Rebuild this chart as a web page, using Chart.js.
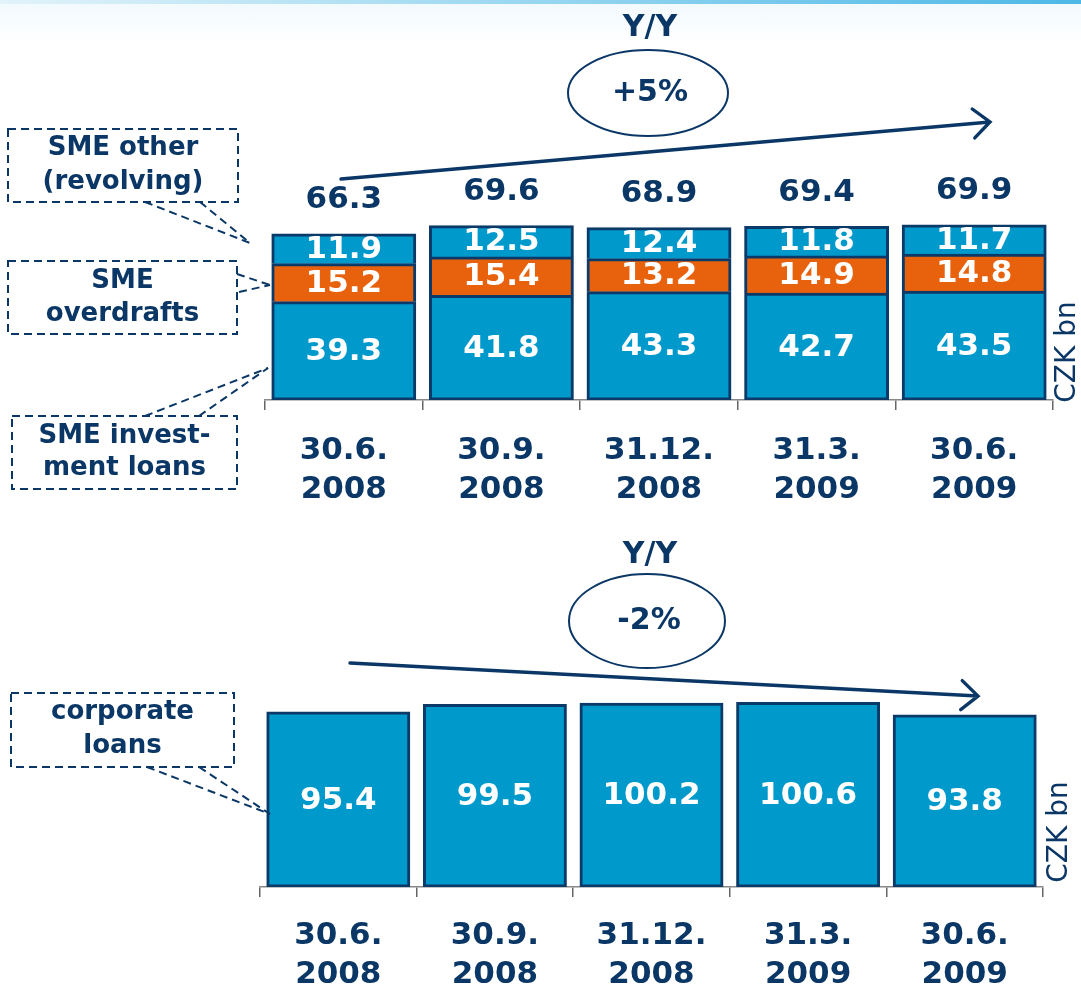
<!DOCTYPE html>
<html>
<head>
<meta charset="utf-8">
<script src="https://cdn.jsdelivr.net/npm/chart.js@4.4.1/dist/chart.umd.min.js"></script>
<style>
  html, body { margin: 0; padding: 0; background: #fff; width: 1081px; height: 990px; overflow: hidden; }
  #haze { position: absolute; left: 0; top: 0; width: 1081px; height: 45px;
          background: linear-gradient(to bottom, rgba(230,245,252,0.55) 0%, rgba(255,255,255,0) 100%); }
  #band { position: absolute; left: 0; top: 0; width: 1081px; height: 4px;
          background: linear-gradient(to right, #e2f3fa 0%, #a6dcf2 40%, #4db8e6 100%); }
  #smeChart { position: absolute; left: 0; top: 0; }
  #corpChart { position: absolute; left: 0; top: 520px; }
</style>
</head>
<body>
<div id="haze"></div>
<div id="band"></div>
<canvas id="smeChart" width="1081" height="520"></canvas>
<canvas id="corpChart" width="1081" height="470"></canvas>
<script>
// Quarter-end dates (two-line tick labels)
const quarters = [["30.6.", "2008"], ["30.9.", "2008"], ["31.12.", "2008"], ["31.3.", "2009"], ["30.6.", "2009"]];

// SME loans, CZK bn
const smeInvestmentLoans = [39.3, 41.8, 43.3, 42.7, 43.5];
const smeOverdrafts      = [15.2, 15.4, 13.2, 14.9, 14.8];
const smeOther           = [11.9, 12.5, 12.4, 11.8, 11.7];
const smeTotals          = [66.3, 69.6, 68.9, 69.4, 69.9];

// Corporate loans, CZK bn
const corporateLoans = [95.4, 99.5, 100.2, 100.6, 93.8];

const NAVY = '#0B3766';
const BLUE = '#0099CC';
const ORANGE = '#E8620E';
const EDGE = '#0B3A68';
const FONT = '"DejaVu Sans", Verdana, sans-serif';

// White values inside each bar segment, navy totals above stacks
const valueLabels = {
  id: 'valueLabels',
  afterDatasetsDraw(chart, args, opts) {
    const ctx = chart.ctx;
    ctx.save();
    ctx.font = 'bold 31px ' + FONT;
    ctx.textAlign = 'center';
    ctx.textBaseline = 'middle';
    chart.data.datasets.forEach((ds, i) => {
      chart.getDatasetMeta(i).data.forEach((bar, j) => {
        ctx.fillStyle = '#ffffff';
        ctx.fillText(ds.data[j].toFixed(1), bar.x, (bar.y + bar.base) / 2 + 1);
      });
    });
    if (opts.totals) {
      const topMeta = chart.getDatasetMeta(chart.data.datasets.length - 1);
      topMeta.data.forEach((bar, j) => {
        ctx.fillStyle = NAVY;
        ctx.fillText(opts.totals[j].toFixed(1), bar.x, bar.y - 34);
      });
    }
    ctx.restore();
  }
};

// Y/Y bubble, trend arrow, dashed callouts and unit caption
const notes = {
  id: 'notes',
  afterDraw(chart, args, o) {
    const ctx = chart.ctx;
    ctx.save();
    ctx.fillStyle = NAVY;
    ctx.strokeStyle = NAVY;
    ctx.textAlign = 'center';
    ctx.textBaseline = 'middle';

    // Y/Y heading and ellipse
    ctx.font = 'bold 30px ' + FONT;
    ctx.fillText('Y/Y', o.yy.x, o.yy.y);
    ctx.lineWidth = 2;
    ctx.beginPath();
    ctx.ellipse(o.bubble.cx, o.bubble.cy, o.bubble.rx, o.bubble.ry, 0, 0, Math.PI * 2);
    ctx.stroke();
    ctx.font = 'bold 30px ' + FONT;
    ctx.fillText(o.bubble.text, o.bubble.cx + 2, o.bubble.cy);

    // trend arrow with open head
    const a = o.arrow;
    ctx.lineWidth = 3.4;
    ctx.lineCap = 'round';
    ctx.beginPath();
    ctx.moveTo(a.x0, a.y0);
    ctx.lineTo(a.x1, a.y1);
    const ang = Math.atan2(a.y1 - a.y0, a.x1 - a.x0);
    const len = 22, spread = 0.72;
    ctx.moveTo(a.x1 - len * Math.cos(ang - spread), a.y1 - len * Math.sin(ang - spread));
    ctx.lineTo(a.x1, a.y1);
    ctx.lineTo(a.x1 - len * Math.cos(ang + spread), a.y1 - len * Math.sin(ang + spread));
    ctx.stroke();

    // dashed callout boxes with leader lines
    ctx.lineCap = 'butt';
    ctx.lineWidth = 2;
    ctx.setLineDash([8, 5]);
    o.callouts.forEach(c => {
      ctx.strokeRect(c.box[0], c.box[1], c.box[2], c.box[3]);
      c.from.forEach(p => {
        ctx.beginPath();
        ctx.moveTo(p[0], p[1]);
        ctx.lineTo(c.to[0], c.to[1]);
        ctx.stroke();
      });
    });
    ctx.setLineDash([]);
    ctx.font = 'bold 26px ' + FONT;
    o.callouts.forEach(c => {
      const cx = c.box[0] + c.box[2] / 2;
      c.text.forEach((t, k) => ctx.fillText(t, cx, c.ty[k]));
    });

    // unit caption, reading upwards
    ctx.translate(o.unit.x, o.unit.y);
    ctx.rotate(-Math.PI / 2);
    ctx.font = '28px ' + FONT;
    ctx.fillText('CZK bn', 0, 0);
    ctx.restore();
  }
};

function xAxis(height, padding) {
  return {
    type: 'category',
    offset: true,
    afterFit(scale) { scale.height = height; },
    grid: { display: true, offset: true, drawOnChartArea: false, drawTicks: true, tickLength: 10, color: '#666', lineWidth: 1.5 },
    border: { display: true, color: '#888', width: 1.5 },
    ticks: {
      color: NAVY,
      font: { family: FONT, size: 31, weight: 'bold', lineHeight: 1.27 },
      padding: padding,
      autoSkip: false,
      maxRotation: 0,
      minRotation: 0
    }
  };
}

const common = {
  responsive: false,
  animation: false,
  events: [],
  plugins: { legend: { display: false }, tooltip: { enabled: false } }
};

// one 3px outline per segment; upper segments rest on the edge of the one below
const barStyle = {
  categoryPercentage: 1,
  barPercentage: 0.914,
  borderSkipped: false,
  inflateAmount: 0.4,
  borderColor: EDGE,
  borderWidth: c => ({ top: 3, left: 3, right: 3, bottom: c.datasetIndex === 0 ? 3 : 0 })
};

new Chart(document.getElementById('smeChart'), {
  type: 'bar',
  data: {
    labels: quarters,
    datasets: [
      { label: 'SME investment loans', data: smeInvestmentLoans, backgroundColor: BLUE },
      { label: 'SME overdrafts', data: smeOverdrafts, backgroundColor: ORANGE },
      { label: 'SME other (revolving)', data: smeOther, backgroundColor: BLUE }
    ]
  },
  options: Object.assign({}, common, {
    layout: { padding: { left: 265, right: 28, top: 0, bottom: 0 } },
    datasets: { bar: barStyle },
    scales: {
      x: Object.assign(xAxis(120, 21), { stacked: true }),
      y: { display: false, stacked: true, min: 0, max: 160 }
    },
    plugins: Object.assign({}, common.plugins, {
      valueLabels: { totals: smeTotals },
      notes: {
        yy: { x: 650, y: 28 },
        bubble: { cx: 648, cy: 93, rx: 80, ry: 43, text: '+5%' },
        arrow: { x0: 341, y0: 179, x1: 990, y1: 122 },
        callouts: [
          { box: [8, 129, 230, 73], text: ['SME other', '(revolving)'], ty: [148, 182], from: [[145, 202], [200, 202]], to: [250, 243] },
          { box: [8, 261, 229, 73], text: ['SME', 'overdrafts'], ty: [281, 314], from: [[237, 274], [239, 292]], to: [270, 285] },
          { box: [12, 416, 225, 73], text: ['SME invest-', 'ment loans'], ty: [436, 468], from: [[145, 416], [199, 416]], to: [268, 368] }
        ],
        unit: { x: 1068, y: 352 }
      }
    })
  }),
  plugins: [valueLabels, notes]
});

new Chart(document.getElementById('corpChart'), {
  type: 'bar',
  data: {
    labels: quarters,
    datasets: [
      { label: 'corporate loans', data: corporateLoans, backgroundColor: BLUE }
    ]
  },
  options: Object.assign({}, common, {
    layout: { padding: { left: 260, right: 38, top: 0, bottom: 0 } },
    datasets: { bar: barStyle },
    scales: {
      x: xAxis(103, 19),
      y: { display: false, min: 0, max: 200 }
    },
    plugins: Object.assign({}, common.plugins, {
      valueLabels: {},
      notes: {
        yy: { x: 650, y: 35 },
        bubble: { cx: 647, cy: 101, rx: 78, ry: 47, text: '-2%' },
        arrow: { x0: 350, y0: 143, x1: 978, y1: 176 },
        callouts: [
          { box: [11, 173, 223, 74], text: ['corporate', 'loans'], ty: [192, 226], from: [[147, 247], [199, 247]], to: [270, 294] }
        ],
        unit: { x: 1060, y: 312 }
      }
    })
  }),
  plugins: [valueLabels, notes]
});
</script>
</body>
</html>
